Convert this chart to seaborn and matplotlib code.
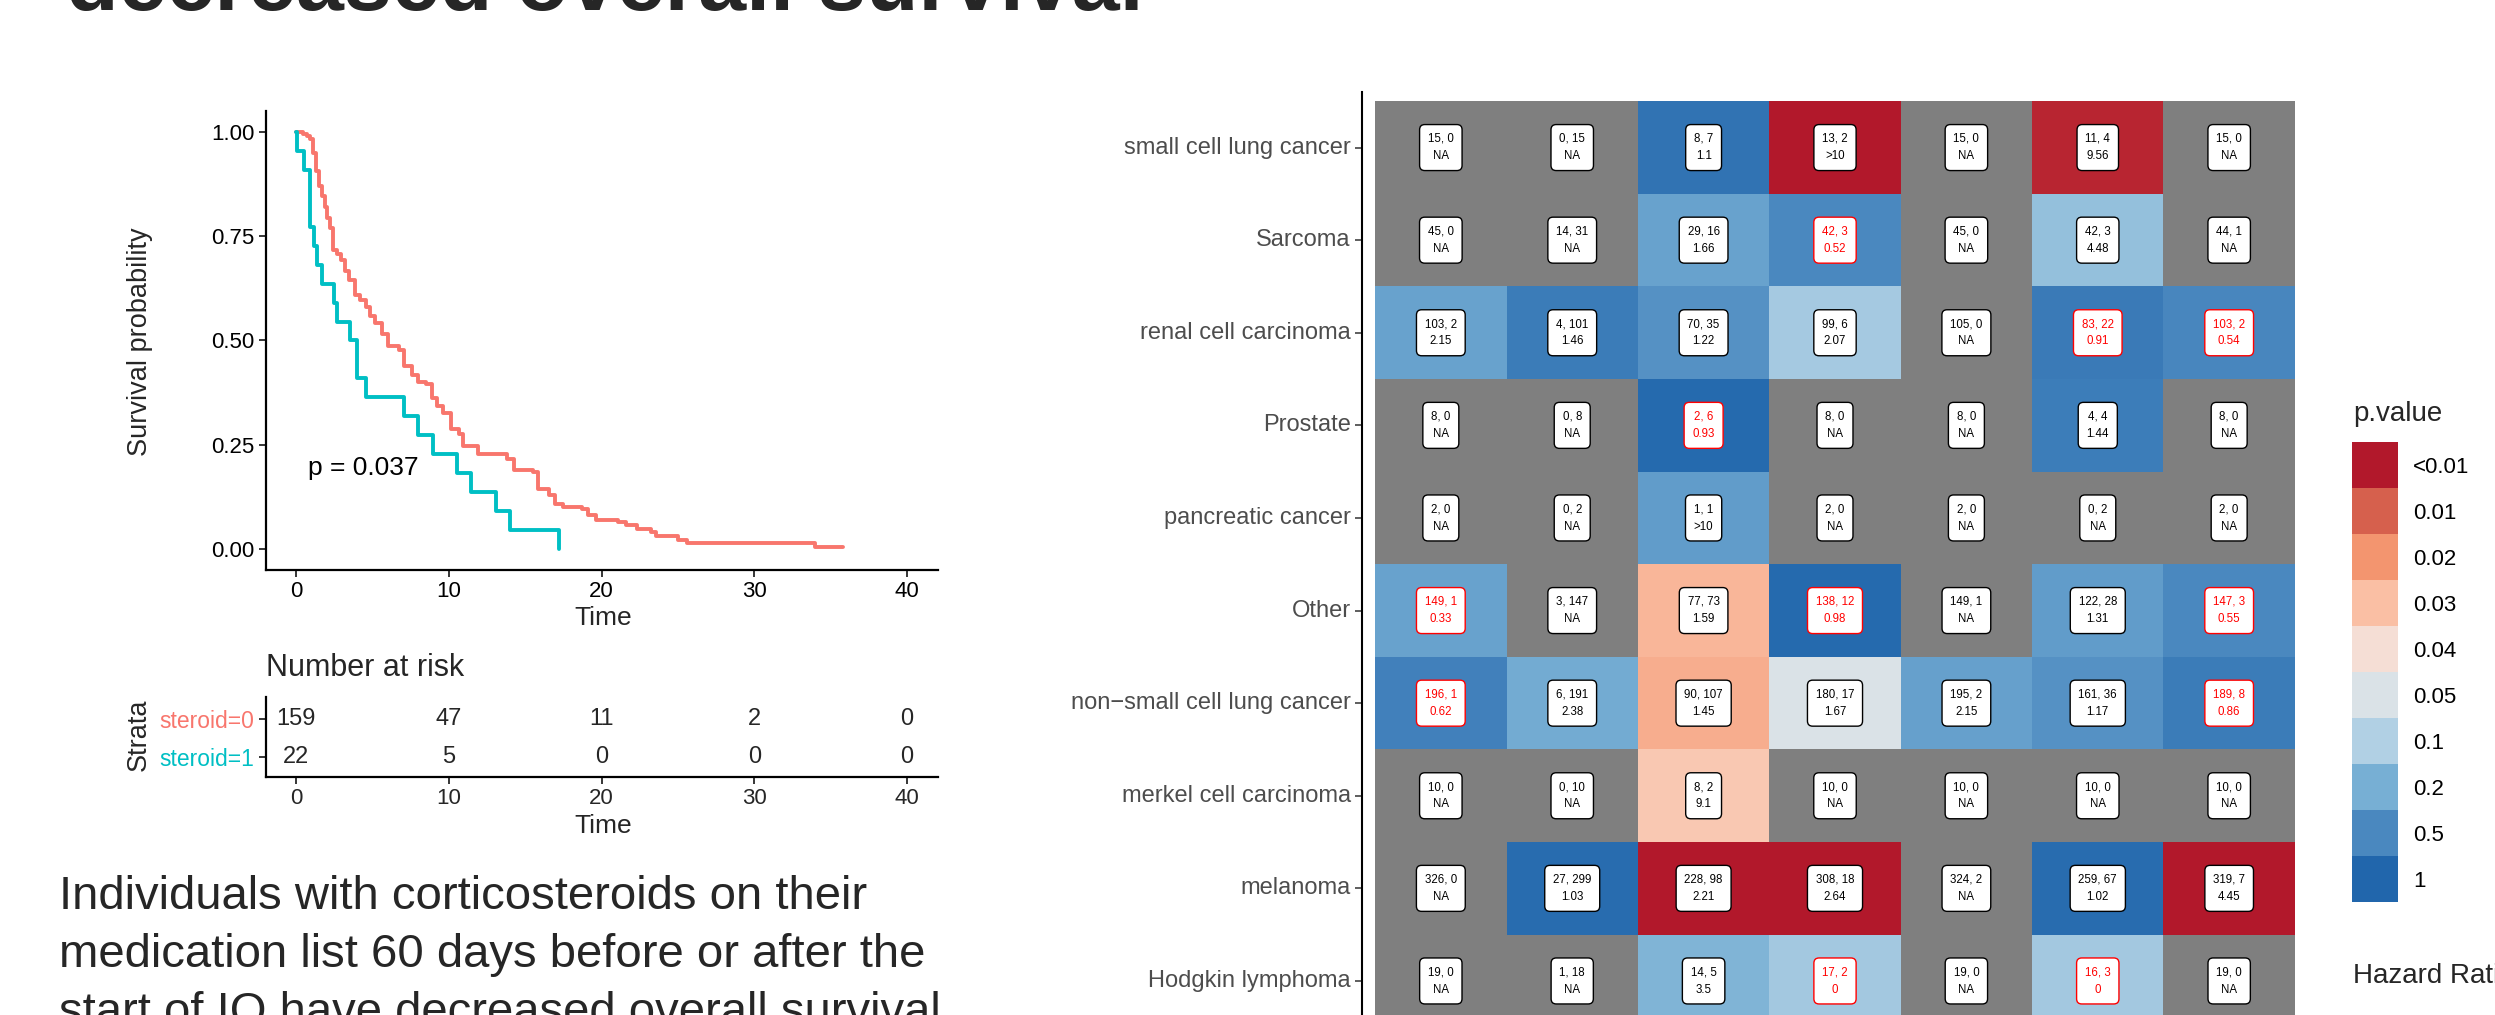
import numpy as np
import pandas as pd
import matplotlib
matplotlib.use("Agg")
import matplotlib.pyplot as plt
from matplotlib.colors import ListedColormap, LinearSegmentedColormap
import seaborn as sns

W, H, DPI = 2495, 1015, 100

# ---------------- Kaplan-Meier estimates ----------------
km_time_s0 = [0, 0.43, 0.72, 0.90, 1.08, 1.33, 1.51, 1.69, 1.87, 2.05, 2.23, 2.41, 2.66,
              2.94, 3.20, 3.48, 3.84, 4.20, 4.56, 4.81, 5.17, 5.64, 6.00, 6.71, 7.07,
              7.61, 7.97, 8.51, 8.87, 9.23, 9.59, 10.13, 10.66, 10.92, 11.92, 13.36,
              13.79, 14.25, 15.51, 15.87, 16.59, 16.95, 17.49, 18.74, 19.10, 19.64,
              21.08, 21.62, 22.33, 23.23, 23.59, 25.03, 25.57, 34.0, 35.8]
km_surv_s0 = [1.0, 0.996, 0.989, 0.983, 0.949, 0.906, 0.871, 0.846, 0.820, 0.794, 0.769,
              0.717, 0.707, 0.692, 0.666, 0.644, 0.610, 0.596, 0.580, 0.559, 0.542,
              0.516, 0.486, 0.477, 0.439, 0.417, 0.400, 0.396, 0.362, 0.344, 0.327,
              0.289, 0.276, 0.246, 0.229, 0.227, 0.216, 0.190, 0.186, 0.143, 0.130,
              0.109, 0.100, 0.096, 0.083, 0.070, 0.066, 0.057, 0.049, 0.040, 0.032,
              0.023, 0.015, 0.006, 0.006]
km_time_s1 = [0, 0.05, 0.5, 0.9, 1.15, 1.4, 1.7, 2.5, 2.7, 3.55, 4.0, 4.55, 7.07, 7.97,
              8.98, 10.56, 11.45, 13.07, 14.0, 17.2]
km_surv_s1 = [1.0, 0.955, 0.909, 0.773, 0.727, 0.682, 0.636, 0.591, 0.545, 0.5, 0.409,
              0.364, 0.318, 0.273, 0.227, 0.182, 0.136, 0.091, 0.045, 0.0]
strata = ["steroid=0", "steroid=1"]
strata_colors = ["#F8766D", "#00BFC4"]
risk_times = [0, 10, 20, 30, 40]
risk_s0 = [159, 47, 11, 2, 0]
risk_s1 = [22, 5, 0, 0, 0]
logrank_label = "p = 0.037"

# ---------------- cancer-type heatmap ----------------
cancer_types = ["small cell lung cancer", "Sarcoma", "renal cell carcinoma", "Prostate",
                "pancreatic cancer", "Other", "non\u2212small cell lung cancer",
                "merkel cell carcinoma", "melanoma", "Hodgkin lymphoma"]
cell_counts = [
    ["15, 0", "0, 15", "8, 7", "13, 2", "15, 0", "11, 4", "15, 0"],
    ["45, 0", "14, 31", "29, 16", "42, 3", "45, 0", "42, 3", "44, 1"],
    ["103, 2", "4, 101", "70, 35", "99, 6", "105, 0", "83, 22", "103, 2"],
    ["8, 0", "0, 8", "2, 6", "8, 0", "8, 0", "4, 4", "8, 0"],
    ["2, 0", "0, 2", "1, 1", "2, 0", "2, 0", "0, 2", "2, 0"],
    ["149, 1", "3, 147", "77, 73", "138, 12", "149, 1", "122, 28", "147, 3"],
    ["196, 1", "6, 191", "90, 107", "180, 17", "195, 2", "161, 36", "189, 8"],
    ["10, 0", "0, 10", "8, 2", "10, 0", "10, 0", "10, 0", "10, 0"],
    ["326, 0", "27, 299", "228, 98", "308, 18", "324, 2", "259, 67", "319, 7"],
    ["19, 0", "1, 18", "14, 5", "17, 2", "19, 0", "16, 3", "19, 0"],
]
hazard_ratios = [
    ["NA", "NA", "1.1", ">10", "NA", "9.56", "NA"],
    ["NA", "NA", "1.66", "0.52", "NA", "4.48", "NA"],
    ["2.15", "1.46", "1.22", "2.07", "NA", "0.91", "0.54"],
    ["NA", "NA", "0.93", "NA", "NA", "1.44", "NA"],
    ["NA", "NA", ">10", "NA", "NA", "NA", "NA"],
    ["0.33", "NA", "1.59", "0.98", "NA", "1.31", "0.55"],
    ["0.62", "2.38", "1.45", "1.67", "2.15", "1.17", "0.86"],
    ["NA", "NA", "9.1", "NA", "NA", "NA", "NA"],
    ["NA", "1.03", "2.21", "2.64", "NA", "1.02", "4.45"],
    ["NA", "NA", "3.5", "0", "NA", "0", "NA"],
]
nan = np.nan
p_values = [
    [nan, nan, 0.80, 0.005, nan, 0.006, nan],
    [nan, nan, 0.30, 0.50, nan, 0.147, nan],
    [0.30, 0.67, 0.43, 0.122, nan, 0.70, 0.52],
    [nan, nan, 0.94, nan, nan, 0.65, nan],
    [nan, nan, 0.34, nan, nan, nan, nan],
    [0.30, nan, 0.028, 0.94, nan, 0.34, 0.50],
    [0.60, 0.23, 0.026, 0.05, 0.31, 0.43, 0.67],
    [nan, nan, 0.033, nan, nan, nan, nan],
    [nan, 0.91, 0.005, 0.005, nan, 0.90, 0.005],
    [nan, nan, 0.184, 0.124, nan, 0.124, nan],
]
pval_breaks = [0.005, 0.01, 0.02, 0.03, 0.04, 0.05, 0.1, 0.2, 0.5, 1.0]
pval_labels = ["<0.01", "0.01", "0.02", "0.03", "0.04", "0.05", "0.1", "0.2", "0.5", "1"]
pval_colors = ["#B2182B", "#D6604D", "#F3956F", "#FABFA4", "#F5DED5",
               "#DAE2E7", "#B1D0E4", "#77AFD4", "#4A88BF", "#2166AC"]
na_color = "#7F7F7F"

title_line = "decreased overall survival"
body_lines = ["Individuals with corticosteroids on their",
              "medication list 60 days before or after the",
              "start of IO have decreased overall survival"]

# ---------------- figure ----------------
sns.set_theme(style="white")
plt.rcParams["font.family"] = ["Liberation Sans", "DejaVu Sans"]

fig = plt.figure(figsize=(W / DPI, H / DPI), dpi=DPI)
fig.patch.set_facecolor("white")


def px_axes(left, top, right, bottom):
    return fig.add_axes([left / W, 1 - bottom / H, (right - left) / W, (bottom - top) / H])


def ftext(x, y, s, **kw):
    return fig.text(x / W, 1 - y / H, s, **kw)


# headline and caption
ftext(66, 10, title_line, fontsize=62, fontweight="bold", ha="left", va="baseline")
for k, line in enumerate(body_lines):
    ftext(59, 909 + 58 * k, line, fontsize=34, ha="left", va="baseline")

# ---- survival curves ----
ax = px_axes(265.5, 111, 937.5, 570)
sns.lineplot(x=km_time_s0, y=km_surv_s0, ax=ax, color=strata_colors[0], lw=2.8,
             drawstyle="steps-post", estimator=None)
sns.lineplot(x=km_time_s1, y=km_surv_s1, ax=ax, color=strata_colors[1], lw=2.8,
             drawstyle="steps-post", estimator=None)
ax.set_xlim(-2, 42)
ax.set_ylim(-0.05, 1.05)
ax.set_xticks(risk_times)
ax.set_yticks([0, 0.25, 0.5, 0.75, 1.0])
ax.set_yticklabels(["0.00", "0.25", "0.50", "0.75", "1.00"])
ax.text(0.8, 0.195, logrank_label, fontsize=19, ha="left", va="center", color="black")
for side in ("top", "right"):
    ax.spines[side].set_visible(False)
for side in ("left", "bottom"):
    ax.spines[side].set_linewidth(1.6)
    ax.spines[side].set_color("black")
ax.tick_params(axis="both", length=5, width=1.1, color="black", labelsize=16,
               labelcolor="black", pad=3, left=True, bottom=True)
ax.set_xlabel("")
ax.set_ylabel("")
ftext(603, 618, "Time", fontsize=19, ha="center", va="center")
ftext(140, 342, "Survival probability", fontsize=19.5, rotation=90, ha="center", va="center")

# ---- number at risk table ----
axr = px_axes(265.5, 697, 937.5, 777)
axr.set_xlim(-2, 42)
axr.set_ylim(-0.526, 1.579)
for t, a, b in zip(risk_times, risk_s0, risk_s1):
    axr.text(t, 1, str(a), fontsize=17, ha="center", va="center")
    axr.text(t, 0, str(b), fontsize=17, ha="center", va="center")
axr.set_xticks(risk_times)
axr.set_yticks([1, 0])
axr.set_yticklabels(strata)
for lab, c in zip(axr.get_yticklabels(), strata_colors):
    lab.set_color(c)
for side in ("top", "right"):
    axr.spines[side].set_visible(False)
for side in ("left", "bottom"):
    axr.spines[side].set_linewidth(1.6)
    axr.spines[side].set_color("black")
axr.tick_params(axis="both", length=5, width=1.1, color="black", labelsize=16, pad=3,
                left=True, bottom=True)
axr.tick_params(axis="y", labelsize=16.5)
ftext(266, 668, "Number at risk", fontsize=22, ha="left", va="center")
ftext(603, 826, "Time", fontsize=19, ha="center", va="center")
ftext(139, 735, "Strata", fontsize=19.5, rotation=90, ha="center", va="center")

# ---- p-value heatmap ----
pv = np.array(p_values, dtype=float)
missing = np.isnan(pv)
level = np.where(missing, np.nan,
                 np.interp(np.nan_to_num(pv, nan=1.0), pval_breaks, np.arange(len(pval_breaks))))
level_df = pd.DataFrame(level, index=cancer_types)
n_rows, n_cols = level.shape

axh = px_axes(1362, 92, 2308, 92 + 10.2 * 92.6)
sns.heatmap(pd.DataFrame(np.zeros_like(level), index=cancer_types), ax=axh,
            cmap=ListedColormap([na_color]), mask=~missing, cbar=False,
            xticklabels=False, yticklabels=cancer_types)
sns.heatmap(level_df, ax=axh, cmap=LinearSegmentedColormap.from_list("pv", pval_colors),
            vmin=0, vmax=len(pval_breaks) - 1, mask=missing, cbar=False,
            xticklabels=False, yticklabels=cancer_types)
axh.set_xlim(-0.1, n_cols + 0.1)
axh.set_ylim(n_rows + 0.1, -0.1)
axh.set_facecolor("white")
axh.spines["left"].set_visible(True)
axh.spines["left"].set_linewidth(1.5)
axh.spines["left"].set_color("black")
for side in ("top", "right", "bottom"):
    axh.spines[side].set_visible(False)
axh.tick_params(axis="y", left=True, length=5, width=1.1, color="#333333",
                labelsize=17, labelcolor="#4D4D4D", pad=3, rotation=0)
axh.tick_params(axis="x", bottom=False)
axh.set_xlabel("")
axh.set_ylabel("")

for i in range(n_rows):
    for j in range(n_cols):
        hr = hazard_ratios[i][j]
        try:
            below_one = float(hr) < 1
        except ValueError:
            below_one = False
        col = "#FF0000" if below_one else "black"
        axh.text(j + 0.5, i + 0.5, f"{cell_counts[i][j]}\n{hr}", ha="center", va="center",
                 fontsize=8.3, color=col, linespacing=1.6,
                 bbox=dict(boxstyle="round,pad=0.72,rounding_size=0.45", fc="white",
                           ec=col, lw=1.0))

# ---- p-value legend ----
axl = px_axes(2352, 442, 2398, 902)
sns.heatmap(pd.DataFrame(np.arange(len(pval_colors)).reshape(-1, 1)), ax=axl,
            cmap=ListedColormap(pval_colors), cbar=False, xticklabels=False,
            yticklabels=pval_labels)
axl.yaxis.tick_right()
axl.tick_params(axis="y", length=0, pad=11, labelsize=16, labelcolor="black", rotation=0)
axl.tick_params(axis="x", bottom=False)
axl.set_xlabel("")
axl.set_ylabel("")
ftext(2353, 414, "p.value", fontsize=20, ha="left", va="center")
ftext(2353, 976, "Hazard Ratio", fontsize=20, ha="left", va="center")

fig.savefig("out.png", dpi=DPI, facecolor="white")
